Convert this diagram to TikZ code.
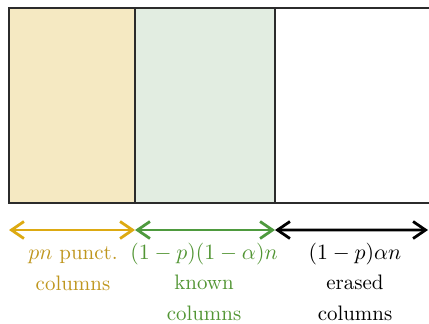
\documentclass[tikz,border=0pt]{standalone}
\usepackage{amsmath}
\usetikzlibrary{arrows.meta,positioning}
\definecolor{pctfill}{HTML}{F5E9C2}
\definecolor{knwfill}{HTML}{E2EDE1}
\definecolor{pctgold}{HTML}{DDAA12}
\definecolor{pcttext}{HTML}{BF961E}
\definecolor{knwgreen}{HTML}{4E9A3E}
\definecolor{knwtext}{HTML}{529534}
\definecolor{edge}{HTML}{2B2B2B}
\tikzset{
  col/.style={draw=edge, line width=0.8pt, inner sep=0pt, outer sep=0pt,
    minimum height=97.5bp, anchor=north west},
  span/.style={{Straight Barb[length=2.2mm,width=3mm]}-{Straight Barb[length=2.2mm,width=3mm]},
    line width=1.4pt},
  lbl/.style={align=center, anchor=base, inner sep=0pt,
    font=\fontsize{10.5}{12.5}\selectfont},
}
\begin{document}
\begin{tikzpicture}[x=0.5bp, y=-0.5bp]
    \useasboundingbox (0,0) rectangle (429,323);
    % the three blocks of columns
    \node[col, fill=pctfill, minimum width=63bp] (punct) at (9,8) {};
    \node[col, fill=knwfill, minimum width=70bp] (known) at (135,8) {};
    \node[col, fill=white, minimum width=100bp] (erased) at (275,8) {};
    % spans under the blocks
    \coordinate[below=13.5bp of punct.south west] (p0);
    \coordinate[below=13.5bp of known.south west] (p1);
    \coordinate[below=13.5bp of erased.south west] (p2);
    \coordinate (p3) at (428,230);
    \draw[span, pctgold] (p0) -- (p1);
    \draw[span, knwgreen] (p1) -- (p2);
    \draw[span, black] (p2) -- (p3);
    % labels (base = last line)
    \node[lbl, text=pcttext] (lpunct) at (73,290) {$pn$ punct.\\[2.7pt] columns};
    \node[lbl, text=knwtext] (lknown) at (204,320) {$(1-p)(1-\alpha)n$\\[2.7pt] known\\[2.7pt] columns};
    \node[lbl, text=black] (lerased) at (355,320) {$(1-p)\alpha n$\\[2.7pt] erased\\[2.7pt] columns};
\end{tikzpicture}
\end{document}
